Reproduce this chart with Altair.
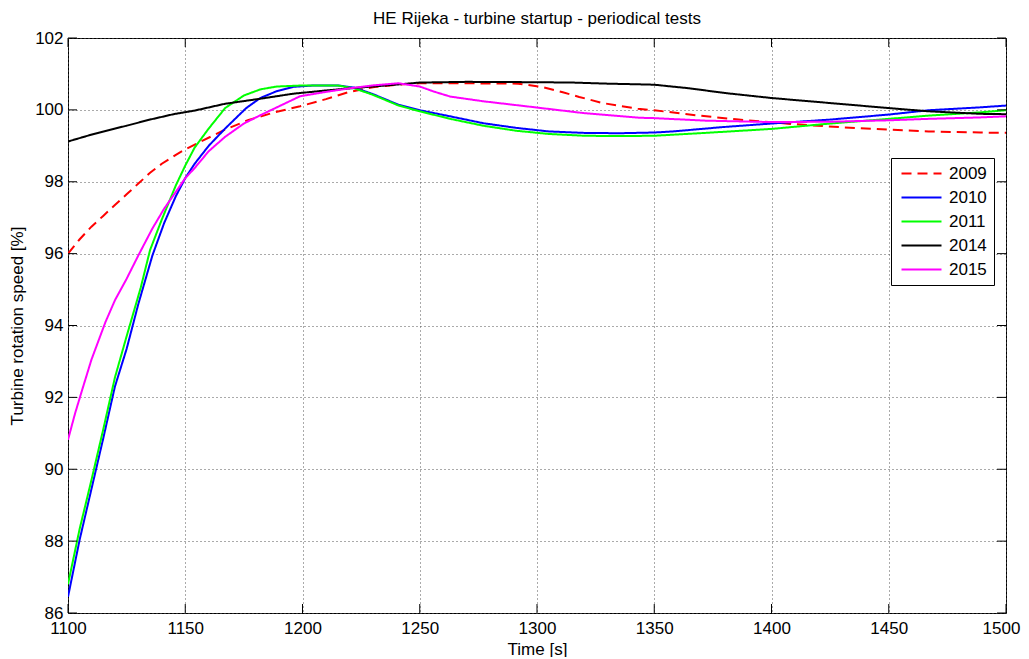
import altair as alt
import pandas as pd

years = ["2009", "2010", "2011", "2014", "2015"]
colors = ["#ff0000", "#0000ff", "#00ff00", "#000000", "#ff00ff"]
dashes = [[10, 6], [1, 0], [1, 0], [1, 0], [1, 0]]

t_2009 = [1100, 1105, 1110, 1115, 1120, 1125, 1130, 1135, 1140, 1146, 1150, 1156, 1167, 1177, 1188, 1199,
          1210, 1220, 1230, 1240, 1250, 1270, 1292, 1302, 1311, 1318, 1328, 1343, 1350, 1365, 1386, 1408,
          1429, 1450, 1467, 1489, 1500]
v_2009 = [96.0, 96.4, 96.75, 97.05, 97.35, 97.65, 97.95, 98.25, 98.5, 98.75, 98.9, 99.1, 99.45, 99.72, 99.93, 100.1,
          100.3, 100.5, 100.63, 100.7, 100.74, 100.74, 100.73, 100.64, 100.49, 100.36, 100.19, 100.03, 99.99, 99.87, 99.73, 99.61,
          99.52, 99.45, 99.40, 99.37, 99.36]

t_2010 = [1100, 1105, 1110, 1115, 1120, 1125, 1130, 1136, 1141, 1146, 1150, 1154, 1160, 1167, 1176, 1182,
          1189, 1196, 1205, 1215, 1222, 1230, 1241, 1250, 1263, 1277, 1291, 1305, 1320, 1335, 1350, 1358,
          1379, 1400, 1425, 1450, 1467, 1489, 1500]
v_2010 = [86.45, 88.05, 89.45, 90.85, 92.3, 93.35, 94.6, 95.95, 96.85, 97.6, 98.1, 98.5, 99.0, 99.48, 100.05, 100.33,
          100.52, 100.64, 100.68, 100.68, 100.62, 100.44, 100.14, 99.99, 99.82, 99.63, 99.5, 99.4, 99.36, 99.35, 99.37, 99.40,
          99.52, 99.62, 99.73, 99.87, 99.99, 100.07, 100.12]

t_2011 = [1100, 1105, 1110, 1115, 1120, 1125, 1131, 1135, 1140, 1146, 1150, 1154, 1160, 1167, 1175, 1182,
          1189, 1200, 1215, 1222, 1230, 1241, 1250, 1263, 1277, 1291, 1305, 1320, 1335, 1350, 1372, 1400,
          1425, 1450, 1467, 1489, 1500]
v_2011 = [86.8, 88.35, 89.7, 91.1, 92.55, 93.7, 95.05, 96.1, 96.95, 97.9, 98.45, 98.95, 99.48, 100.05, 100.4, 100.57,
          100.65, 100.68, 100.68, 100.6, 100.42, 100.12, 99.96, 99.75, 99.56, 99.42, 99.33, 99.28, 99.27, 99.28, 99.36, 99.47,
          99.62, 99.75, 99.84, 99.93, 99.99]

t_2014 = [1100, 1111, 1125, 1135, 1145, 1154, 1167, 1182, 1196, 1210, 1224, 1234, 1250, 1270, 1300, 1315,
          1330, 1344, 1350, 1365, 1380, 1400, 1425, 1450, 1467, 1489, 1500]
v_2014 = [99.12, 99.33, 99.56, 99.73, 99.88, 99.98, 100.17, 100.31, 100.45, 100.54, 100.62, 100.67, 100.76, 100.78, 100.77, 100.76,
          100.73, 100.71, 100.70, 100.6, 100.47, 100.33, 100.19, 100.05, 99.96, 99.89, 99.88]

t_2015 = [1100, 1103, 1106, 1110, 1116, 1120, 1125, 1130, 1136, 1141, 1146, 1150, 1154, 1160, 1167, 1175, 1182,
          1190, 1199, 1210, 1220, 1230, 1241, 1250, 1256, 1263, 1277, 1298, 1320, 1344, 1350, 1372, 1400,
          1425, 1450, 1467, 1489, 1500]
v_2015 = [90.82, 91.55, 92.2, 93.05, 94.1, 94.7, 95.3, 95.95, 96.7, 97.25, 97.72, 98.1, 98.38, 98.85, 99.25, 99.62, 99.85,
          100.1, 100.38, 100.5, 100.6, 100.68, 100.74, 100.65, 100.51, 100.37, 100.24, 100.08, 99.91, 99.78, 99.77, 99.70, 99.66,
          99.67, 99.71, 99.75, 99.79, 99.82]

x_ticks = [1100, 1150, 1200, 1250, 1300, 1350, 1400, 1450, 1500]
y_ticks = [86, 88, 90, 92, 94, 96, 98, 100, 102]

series = [("2009", t_2009, v_2009), ("2010", t_2010, v_2010), ("2011", t_2011, v_2011),
          ("2014", t_2014, v_2014), ("2015", t_2015, v_2015)]
rows = []
for yr, ts, vs in series:
    for i, (t, v) in enumerate(zip(ts, vs)):
        rows.append({"year": yr, "t": t, "v": v, "i": i})
df = pd.DataFrame(rows)

W, H = 938, 575
FONT = "Liberation Sans"
TL = 9

xs = alt.Scale(domain=[1100, 1500], nice=False, zero=False)
ys = alt.Scale(domain=[86, 102], nice=False, zero=False)
x_axis = alt.Axis(values=x_ticks, format="d", title="Time [s]", labelPadding=7, titlePadding=5,
                  labelFlush=False, labelOverlap=False,
                  labelOffset={"condition": {"test": "datum.value >= 1500", "value": -5}, "value": 0})
y_axis = alt.Axis(values=y_ticks, format="d", title="Turbine rotation speed [%]", labelPadding=5, titlePadding=8,
                  labelFlush=False, labelOverlap=False)

lines = alt.Chart(df).mark_line(strokeWidth=2, clip=True).encode(
    x=alt.X("t:Q", scale=xs, axis=x_axis),
    y=alt.Y("v:Q", scale=ys, axis=y_axis),
    color=alt.Color("year:N", scale=alt.Scale(domain=years, range=colors), title=None),
    strokeDash=alt.StrokeDash("year:N", scale=alt.Scale(domain=years, range=dashes), title=None),
    order=alt.Order("i:Q"),
)

xt = pd.DataFrame({"t": x_ticks})
yt = pd.DataFrame({"v": y_ticks})

tick_top = alt.Chart(xt).mark_rule(color="black", strokeWidth=1).encode(
    x=alt.X("t:Q", scale=xs, axis=x_axis), y=alt.value(0), y2=alt.value(TL))
tick_bot = alt.Chart(xt).mark_rule(color="black", strokeWidth=1).encode(
    x=alt.X("t:Q", scale=xs, axis=x_axis), y=alt.value(H), y2=alt.value(H - TL))
tick_left = alt.Chart(yt).mark_rule(color="black", strokeWidth=1).encode(
    y=alt.Y("v:Q", scale=ys, axis=y_axis), x=alt.value(0), x2=alt.value(TL))
tick_right = alt.Chart(yt).mark_rule(color="black", strokeWidth=1).encode(
    y=alt.Y("v:Q", scale=ys, axis=y_axis), x=alt.value(W), x2=alt.value(W - TL))

chart = alt.layer(lines, tick_top, tick_bot, tick_left, tick_right).properties(
    width=W, height=H,
    padding={"left": 60, "top": 30, "right": 15, "bottom": 44},
    autosize=alt.AutoSizeParams(type="none"),
    title=alt.TitleParams("HE Rijeka - turbine startup - periodical tests", font=FONT, fontSize=17,
                          fontWeight="normal", color="black", anchor="middle", offset=1),
).configure_view(
    stroke="black", strokeWidth=1
).configure_axis(
    domain=False, ticks=False, grid=True, gridColor="#555555", gridDash=[1, 3], gridOpacity=1, gridWidth=1,
    labelFont=FONT, labelFontSize=17, labelColor="black",
    titleFont=FONT, titleFontSize=17, titleFontWeight="normal", titleColor="black",
).configure_legend(
    orient="none", legendX=823, legendY=120,
    strokeColor="black", fillColor="white", padding=7,
    symbolType="M-1,0H7", symbolSize=100, symbolStrokeWidth=2, symbolOffset=0,
    labelFont=FONT, labelFontSize=17, labelColor="black", labelOffset=34, rowPadding=6,
    cornerRadius=0,
)

chart.save("out.html", embed_options={"renderer": "svg", "actions": False})
